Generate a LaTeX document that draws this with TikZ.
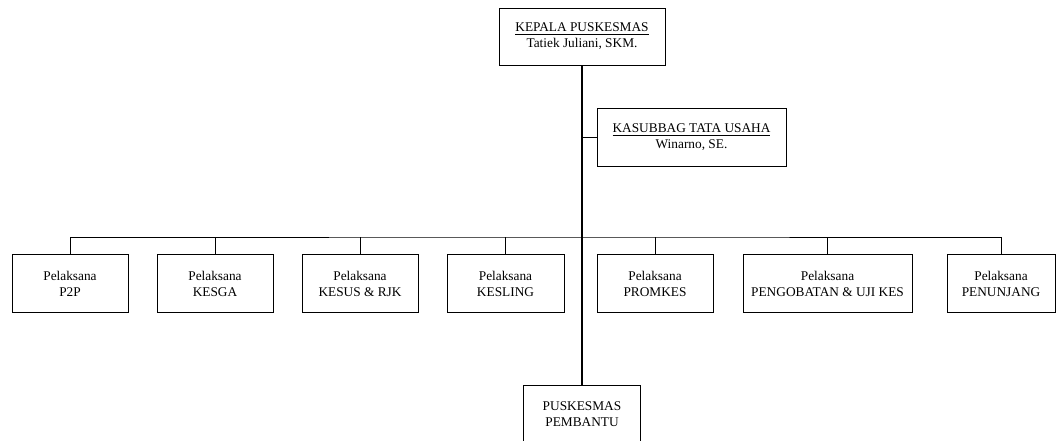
\documentclass[tikz,border=0pt]{standalone}
\usepackage{fontspec}
\setmainfont{Liberation Serif}

\begin{document}
\begin{tikzpicture}[x=0.75pt, y=-0.75pt,
    kotak/.style={draw, black, line width=0.7pt, align=center, minimum height=44pt, inner sep=2pt, font=\fontsize{10}{12}\selectfont},
    garis/.style={black, line width=0.7pt},
    batang/.style={black, line width=1.4pt}]
            \useasboundingbox (0,0) rectangle (1056,441);
            \clip (0,0) rectangle (1056,441);

            \node[kotak, minimum width=124.5pt, minimum height=42.75pt] (kepala) at (582,36.5) {\underline{KEPALA PUSKESMAS}\\Tatiek Juliani, SKM.};
            \node[kotak, minimum width=141.75pt] (tu) at (691.5,137.5) {\underline{KASUBBAG TATA USAHA}\\Winarno, SE.};

            \node[kotak, minimum width=87pt] (p2p) at (70,283.5) {Pelaksana\\P2P};
            \node[kotak, minimum width=87pt] (kesga) at (215,283.5) {Pelaksana\\KESGA};
            \node[kotak, minimum width=87pt] (kesus) at (360,283.5) {Pelaksana\\KESUS \& RJK};
            \node[kotak, minimum width=87.75pt] (kesling) at (505.5,283.5) {Pelaksana\\KESLING};
            \node[kotak, minimum width=87pt] (promkes) at (655,283.5) {Pelaksana\\PROMKES};
            \node[kotak, minimum width=126.75pt] (pengobatan) at (827.5,283.5) {Pelaksana\\PENGOBATAN \& UJI KES};
            \node[kotak, minimum width=81pt] (penunjang) at (1001,283.5) {Pelaksana\\PENUNJANG};

            \node[kotak, minimum width=87.75pt] (pustu) at (582,414.5) {PUSKESMAS\\PEMBANTU};

            \coordinate (bus) at (582,237);

            \draw[garis] (p2p.north) |- (bus) -| (penunjang.north);
            \draw[garis] (kesga.north) -- (kesga.north |- bus);
            \draw[garis] (kesus.north) -- (kesus.north |- bus);
            \draw[garis] (kesling.north) -- (kesling.north |- bus);
            \draw[garis] (promkes.north) -- (promkes.north |- bus);
            \draw[garis] (pengobatan.north) -- (pengobatan.north |- bus);
            \draw[garis] (tu.west) -- (tu.west -| kepala.south);

            \draw[batang] (kepala.south) -- (pustu.north);
        \end{tikzpicture}
\end{document}
